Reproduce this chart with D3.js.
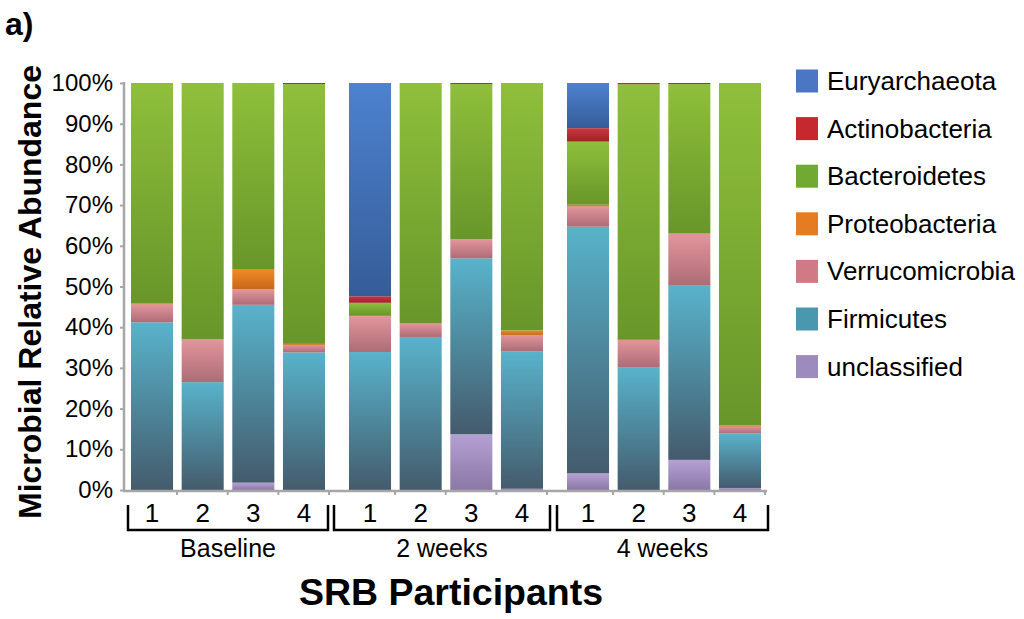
<!DOCTYPE html>
<html>
<head>
<meta charset="utf-8">
<script src="https://cdn.jsdelivr.net/npm/d3@7"></script>
<style>
  body { margin: 0; background: #fff; }
  text { font-family: "Liberation Sans", Arial, sans-serif; fill: #000; }
</style>
</head>
<body>
<svg id="chart"></svg>
<script>
// 时间点与受试者
var groups = ["Baseline", "2 weeks", "4 weeks"];
var participants = ["1", "2", "3", "4"];
// 堆叠顺序：从下到上
var phyla = ["unclassified", "Firmicutes", "Verrucomicrobia", "Proteobacteria", "Bacteroidetes", "Actinobacteria", "Euryarchaeota"];
// 图例顺序
var legendOrder = ["Euryarchaeota", "Actinobacteria", "Bacteroidetes", "Proteobacteria", "Verrucomicrobia", "Firmicutes", "unclassified"];
// 每个门的百分比，按 Baseline 1-4, 2 weeks 1-4, 4 weeks 1-4
var unclassified    = [0,    0,    1.8,  0,    0,    0,    13.7, 0.3,  4.1,  0,    7.4,  0.5];
var firmicutes      = [41.2, 26.5, 43.7, 33.8, 33.9, 37.6, 43.2, 33.8, 60.6, 30.2, 42.8, 13.4];
var verrucomicrobia = [4.4,  10.5, 3.8,  1.9,  8.8,  3.3,  4.7,  4.0,  5.0,  6.7,  12.8, 1.8];
var proteobacteria  = [0.3,  0,    5.0,  0.2,  0.3,  0,    0,    1.1,  0.4,  0,    0,    0.2];
var bacteroidetes   = [54.1, 63.0, 45.7, 63.9, 3.0,  59.1, 38.2, 60.8, 15.5, 62.8, 36.8, 84.1];
var actinobacteria  = [0,    0,    0,    0.2,  1.6,  0,    0.2,  0,    3.3,  0.3,  0.2,  0];
var euryarchaeota   = [0,    0,    0,    0,    52.4, 0,    0,    0,    11.1, 0,    0,    0];
var yTicks = [0, 10, 20, 30, 40, 50, 60, 70, 80, 90, 100];

var seriesValues = {
  "unclassified": unclassified,
  "Firmicutes": firmicutes,
  "Verrucomicrobia": verrucomicrobia,
  "Proteobacteria": proteobacteria,
  "Bacteroidetes": bacteroidetes,
  "Actinobacteria": actinobacteria,
  "Euryarchaeota": euryarchaeota
};
// 渐变：上浅下深
var gradColors = {
  "Euryarchaeota":   ["#4d82d0", "#365c98"],
  "Actinobacteria":  ["#cc363d", "#9e2229"],
  "Bacteroidetes":   ["#8fbf3b", "#68962a"],
  "Proteobacteria":  ["#f28b25", "#c8661a"],
  "Verrucomicrobia": ["#e3959c", "#ad6c76"],
  "Firmicutes":      ["#58b3cb", "#445b6c"],
  "unclassified":    ["#b5a0d3", "#8a78a6"]
};
var legendColors = {
  "Euryarchaeota": "#4a76c4",
  "Actinobacteria": "#c5282f",
  "Bacteroidetes": "#70aa32",
  "Proteobacteria": "#e47c22",
  "Verrucomicrobia": "#cf7a84",
  "Firmicutes": "#4a98ae",
  "unclassified": "#9d8bbd"
};

var width = 1024, height = 619;
var svg = d3.select("#chart").attr("width", width).attr("height", height);

// 把数据整理成表
var table = [];
groups.forEach((g, gi) => {
  participants.forEach((p, pi) => {
    var row = { group: g, part: p };
    phyla.forEach((ph) => { row[ph] = seriesValues[ph][gi * 4 + pi]; });
    table.push(row);
  });
});
var stacked = d3.stack().keys(phyla)(table);

// 比例尺
var y = d3.scaleLinear().domain([0, 100]).range([490, 83]);
var xGroup = d3.scaleBand().domain(groups).range([126, 780]);
var xPart = d3.scaleBand().domain(participants).range([5, 199]).paddingInner(0.17).paddingOuter(0);
var barX = (d) => xGroup(d.group) + xPart(d.part);

// 渐变定义
var defs = svg.append("defs");
phyla.forEach((ph, i) => {
  var lg = defs.append("linearGradient")
    .attr("id", "g" + i)
    .attr("x1", 0).attr("y1", 0).attr("x2", 0).attr("y2", 1);
  lg.append("stop").attr("offset", "0%").attr("stop-color", gradColors[ph][0]);
  lg.append("stop").attr("offset", "100%").attr("stop-color", gradColors[ph][1]);
});

// 堆叠柱
svg.append("g")
  .selectAll("g")
  .data(stacked)
  .enter()
  .append("g")
  .attr("fill", (s, i) => "url(#g" + i + ")")
  .selectAll("rect")
  .data((s) => s.filter((d) => d[1] - d[0] > 0))
  .enter()
  .append("rect")
  .attr("x", (d) => barX(d.data))
  .attr("y", (d) => y(d[1]))
  .attr("width", xPart.bandwidth())
  .attr("height", (d) => Math.max(1, y(d[0]) - y(d[1])));

// y轴
var yAxis = d3.axisLeft(y)
  .tickValues(yTicks)
  .tickFormat((d) => d + "%")
  .tickSize(4)
  .tickSizeOuter(0)
  .tickPadding(7);
svg.append("g")
  .attr("transform", "translate(124,0)")
  .call(yAxis)
  .call((g) => {
    g.select(".domain").attr("stroke", "#a6a6a6").attr("stroke-width", 2.5).attr("d", "M0,82V492");
    g.selectAll(".tick line").attr("stroke", "#a6a6a6").attr("stroke-width", 2);
    g.selectAll(".tick text")
      .style("font-family", '"Liberation Sans", Arial, sans-serif')
      .style("font-size", "24px")
      .attr("fill", "#000");
  });

// x轴线和刻度
svg.append("line")
  .attr("x1", 123).attr("x2", 767)
  .attr("y1", 491).attr("y2", 491)
  .attr("stroke", "#a6a6a6").attr("stroke-width", 2.5);
svg.append("g")
  .selectAll("line")
  .data(table)
  .enter()
  .append("line")
  .attr("x1", (d) => barX(d) + xPart.bandwidth() + 4)
  .attr("x2", (d) => barX(d) + xPart.bandwidth() + 4)
  .attr("y1", 491).attr("y2", 495)
  .attr("stroke", "#a6a6a6").attr("stroke-width", 2);

// 受试者编号
svg.append("g")
  .selectAll("text")
  .data(table)
  .enter()
  .append("text")
  .attr("x", (d) => barX(d) + xPart.bandwidth() / 2)
  .attr("y", 522)
  .attr("text-anchor", "middle")
  .style("font-size", "26px")
  .text((d) => d.part);

// 分组括号
var brackets = [
  { group: "Baseline", x1: 128, x2: 328 },
  { group: "2 weeks", x1: 334, x2: 550 },
  { group: "4 weeks", x1: 557, x2: 768 }
];
svg.append("g")
  .selectAll("path")
  .data(brackets)
  .enter()
  .append("path")
  .attr("d", (d) => `M${d.x1},505V530H${d.x2}V505`)
  .attr("fill", "none")
  .attr("stroke", "#000")
  .attr("stroke-width", 2.5);
svg.append("g")
  .selectAll("text")
  .data(brackets)
  .enter()
  .append("text")
  .attr("x", (d) => (d.x1 + d.x2) / 2)
  .attr("y", 557)
  .attr("text-anchor", "middle")
  .style("font-size", "25px")
  .text((d) => d.group);

// 轴标题
svg.append("text")
  .attr("x", 451)
  .attr("y", 605)
  .attr("text-anchor", "middle")
  .style("font-size", "37.5px")
  .style("font-weight", "bold")
  .text("SRB Participants");
svg.append("text")
  .attr("transform", "translate(41,292) rotate(-90)")
  .attr("text-anchor", "middle")
  .style("font-size", "32px")
  .style("font-weight", "bold")
  .text("Microbial Relative Abundance");
svg.append("text")
  .attr("x", 5)
  .attr("y", 35)
  .style("font-size", "32px")
  .style("font-weight", "bold")
  .text("a)");

// 图例
var legend = svg.selectAll(".legend")
  .data(legendOrder)
  .enter()
  .append("g")
  .attr("class", "legend")
  .attr("transform", (d, i) => `translate(796,${81 + i * 47.6})`);
legend.append("rect")
  .attr("x", 0).attr("y", -11.5)
  .attr("width", 22).attr("height", 23)
  .attr("fill", (d) => legendColors[d]);
legend.append("text")
  .attr("x", 31)
  .attr("y", 9)
  .style("font-size", "26px")
  .text((d) => d);
</script>
</body>
</html>
